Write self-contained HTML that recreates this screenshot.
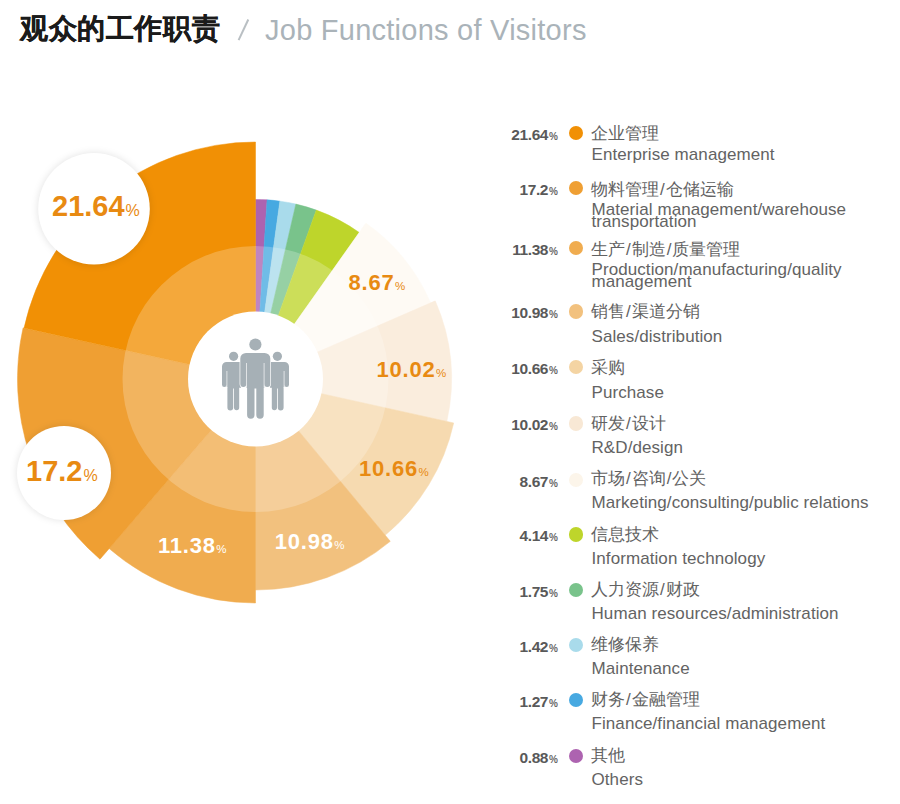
<!DOCTYPE html>
<html><head><meta charset="utf-8">
<style>
html,body{margin:0;padding:0;background:#fff;width:900px;height:804px;overflow:hidden;position:relative;font-family:"Liberation Sans",sans-serif;}
.title-zh{position:absolute;left:20px;top:11px;font-size:28px;font-weight:700;color:#1b1b1b;letter-spacing:0.6px;-webkit-text-stroke:0.25px #1b1b1b;line-height:36px;white-space:nowrap}
.title-sl{position:absolute;left:238px;top:13px;font-size:29px;color:#b7bec3;line-height:34px}
.title-en{position:absolute;left:265px;top:13px;font-size:29px;color:#aab3b9;line-height:34px;white-space:nowrap;letter-spacing:0.25px}
svg{position:absolute;left:0;top:0}
.dot{position:absolute;left:568.9px;width:14.2px;height:14.2px;border-radius:50%}
.pct{position:absolute;right:342px;font-size:15.5px;font-weight:700;color:#595959;line-height:16px;white-space:nowrap;letter-spacing:-0.4px}
.pct small{font-size:10px;font-weight:700;color:#6a6a6a;letter-spacing:0;margin-left:1px}
.zh{position:absolute;left:591px;font-size:17px;color:#626262;line-height:20px;white-space:nowrap}
.en{position:absolute;left:591.5px;letter-spacing:0.08px;font-size:17px;color:#636363;line-height:18px;white-space:nowrap}
.zh i{font-style:normal;margin:0 1px}
.lbl{position:absolute;font-weight:700;white-space:nowrap;color:#E88A12}
.lbl small{font-weight:400;}
.w{color:#fff}
</style></head><body>
<div class="title-zh">观众的工作职责</div>

<div class="title-en">Job Functions of Visitors</div>
<svg width="900" height="804" viewBox="0 0 900 804">
<line x1="248.3" y1="19.5" x2="238.6" y2="40.2" stroke="#b9bfc3" stroke-width="2"/>
<defs>
<filter id="sh" x="-30%" y="-30%" width="160%" height="160%"><feGaussianBlur stdDeviation="3"/></filter>
</defs>
<path d="M255.5,379.0 L255.50,199.50 A179.5,179.5 0 0 1 267.08,199.87 Z" fill="#AD63B0" stroke="#AD63B0" stroke-width="0.5"/>
<path d="M255.5,379.0 L267.08,199.87 A179.5,179.5 0 0 1 279.86,201.16 Z" fill="#47A9E1" stroke="#47A9E1" stroke-width="0.5"/>
<path d="M255.5,379.0 L279.86,201.16 A179.5,179.5 0 0 1 295.88,204.10 Z" fill="#A9DBEB" stroke="#A9DBEB" stroke-width="0.5"/>
<path d="M255.5,379.0 L295.88,204.10 A179.5,179.5 0 0 1 316.30,210.11 Z" fill="#79C38B" stroke="#79C38B" stroke-width="0.5"/>
<path d="M255.5,379.0 L316.30,210.11 A179.5,179.5 0 0 1 359.23,232.50 Z" fill="#BED52B" stroke="#BED52B" stroke-width="0.5"/>
<path d="M255.5,379.0 L365.87,223.12 A191.0,191.0 0 0 1 430.66,302.84 Z" fill="#FEFAF4" stroke="#FEFAF4" stroke-width="0.5"/>
<path d="M255.5,379.0 L435.24,300.85 A196.0,196.0 0 0 1 446.85,421.42 Z" fill="#FAEDDD" stroke="#FAEDDD" stroke-width="0.5"/>
<path d="M255.5,379.0 L453.69,422.94 A203.0,203.0 0 0 1 385.17,535.19 Z" fill="#F6DAB0" stroke="#F6DAB0" stroke-width="0.5"/>
<path d="M255.5,379.0 L390.28,541.34 A211.0,211.0 0 0 1 255.50,590.00 Z" fill="#F2C17E" stroke="#F2C17E" stroke-width="0.5"/>
<path d="M255.5,379.0 L255.50,603.00 A224.0,224.0 0 0 1 109.13,548.57 Z" fill="#F0AC4F" stroke="#F0AC4F" stroke-width="0.5"/>
<path d="M255.5,379.0 L99.99,559.16 A238.0,238.0 0 0 1 23.05,327.89 Z" fill="#EF9F33" stroke="#EF9F33" stroke-width="0.5"/>
<path d="M255.5,379.0 L24.03,328.11 A237.0,237.0 0 0 1 255.50,142.00 Z" fill="#F19005" stroke="#F19005" stroke-width="0.5"/>
<circle cx="255.5" cy="379.0" r="133" fill="#fff" fill-opacity="0.22"/>
<circle cx="255.5" cy="379.0" r="67.5" fill="#fff"/>
<circle cx="94" cy="209" r="57" fill="#000" fill-opacity="0.09" filter="url(#sh)"/>
<circle cx="94" cy="208.8" r="55.8" fill="#fff"/>
<circle cx="64" cy="473" r="48" fill="#000" fill-opacity="0.09" filter="url(#sh)"/>
<circle cx="64" cy="473" r="47" fill="#fff"/>
<g fill="#A6B0B6">
 <circle cx="233.6" cy="356.3" r="4.6"/>
 <path id="sp" d="M222,366.6 A4.6,4.6 0 0 1 226.6,362 H241 V387.7 H239.2 V407.6 A2.6,2.6 0 0 1 234,407.6 V388.6 H233.2 V407.6 A2.9,2.9 0 0 1 227.4,407.6 V387 H226.6 V384.8 A2.3,2.3 0 0 1 222,384.8 Z"/>
 <circle cx="277.4" cy="356.3" r="4.6"/>
 <use href="#sp" transform="translate(511,0) scale(-1,1)"/>
</g>
<line x1="226.9" y1="371" x2="226.9" y2="387.5" stroke="#fff" stroke-width="0.65"/>
<line x1="284.1" y1="371" x2="284.1" y2="387.5" stroke="#fff" stroke-width="0.65"/>
<g fill="#A6B0B6">
 <circle cx="255.4" cy="344.5" r="6.1"/>
 <path d="M240.3,358.6 A5.7,5.7 0 0 1 246,352.9 H264.6 A5.7,5.7 0 0 1 270.3,358.6 V384 A3,3 0 0 1 264.3,384 V387.7 H263.7 V415 A3.7,3.7 0 0 1 256.3,415 V388.5 H254.5 V415 A3.7,3.7 0 0 1 247.1,415 V387.7 H246.3 V384 A3,3 0 0 1 240.3,384 Z" stroke="#fff" stroke-width="1.4" paint-order="stroke"/>
</g>
<line x1="246.5" y1="363" x2="246.5" y2="387.5" stroke="#fff" stroke-width="0.65"/>
<line x1="264.1" y1="363" x2="264.1" y2="387.5" stroke="#fff" stroke-width="0.65"/>
</svg>
<div class="lbl" style="left:52px;top:190px;font-size:29px">21.64<small style="font-size:16px;margin-left:1px">%</small></div>
<div class="lbl" style="left:26px;top:455px;font-size:29px">17.2<small style="font-size:16px;margin-left:1px">%</small></div>
<div class="lbl" style="left:348.5px;top:270px;font-size:22px;letter-spacing:0.8px">8.67<small style="font-size:11.5px;letter-spacing:0;margin-left:0.5px">%</small></div>
<div class="lbl" style="left:376.5px;top:357px;font-size:22px;letter-spacing:0.8px">10.02<small style="font-size:11.5px;letter-spacing:0;margin-left:0.5px">%</small></div>
<div class="lbl" style="left:359px;top:456px;font-size:22px;letter-spacing:0.8px">10.66<small style="font-size:11.5px;letter-spacing:0;margin-left:0.5px">%</small></div>
<div class="lbl w" style="left:274.7px;top:529px;font-size:22px;letter-spacing:0.8px">10.98<small style="font-size:11.5px;letter-spacing:0;margin-left:0.5px">%</small></div>
<div class="lbl w" style="left:158px;top:533px;font-size:22px;letter-spacing:0.8px">11.38<small style="font-size:11.5px;letter-spacing:0;margin-left:0.5px">%</small></div>
<div class="dot" style="top:125.8px;background:#F19005"></div>
<div class="pct" style="top:126.8px">21.64<small>%</small></div>
<div class="zh" style="top:124.3px">企业管理</div>
<div class="en" style="top:145.5px">Enterprise management</div>
<div class="dot" style="top:181.2px;background:#EF9F33"></div>
<div class="pct" style="top:182.2px">17.2<small>%</small></div>
<div class="zh" style="top:179.8px">物料管理<i>/</i>仓储运输</div>
<div class="en" style="top:200.5px">Material management/warehouse</div>
<div class="en" style="top:212.5px">transportation</div>
<div class="dot" style="top:241.2px;background:#F0AC4F"></div>
<div class="pct" style="top:242.2px">11.38<small>%</small></div>
<div class="zh" style="top:239.8px">生产<i>/</i>制造<i>/</i>质量管理</div>
<div class="en" style="top:260.5px">Production/manufacturing/quality</div>
<div class="en" style="top:272.5px">management</div>
<div class="dot" style="top:304.4px;background:#F2C17E"></div>
<div class="pct" style="top:305.4px">10.98<small>%</small></div>
<div class="zh" style="top:302.0px">销售<i>/</i>渠道分销</div>
<div class="en" style="top:328.0px">Sales/distribution</div>
<div class="dot" style="top:359.6px;background:#F4D4A3"></div>
<div class="pct" style="top:360.6px">10.66<small>%</small></div>
<div class="zh" style="top:358.4px">采购</div>
<div class="en" style="top:383.5px">Purchase</div>
<div class="dot" style="top:416.4px;background:#F8E8D5"></div>
<div class="pct" style="top:417.4px">10.02<small>%</small></div>
<div class="zh" style="top:413.5px">研发<i>/</i>设计</div>
<div class="en" style="top:438.5px">R&amp;D/design</div>
<div class="dot" style="top:472.8px;background:#FCF5EA"></div>
<div class="pct" style="top:473.8px">8.67<small>%</small></div>
<div class="zh" style="top:468.9px">市场<i>/</i>咨询<i>/</i>公关</div>
<div class="en" style="top:494.0px">Marketing/consulting/public relations</div>
<div class="dot" style="top:527.4px;background:#BED52B"></div>
<div class="pct" style="top:528.4px">4.14<small>%</small></div>
<div class="zh" style="top:524.7px">信息技术</div>
<div class="en" style="top:549.7px">Information technology</div>
<div class="dot" style="top:583.1px;background:#79C38B"></div>
<div class="pct" style="top:584.1px">1.75<small>%</small></div>
<div class="zh" style="top:580.1px">人力资源<i>/</i>财政</div>
<div class="en" style="top:604.9px">Human resources/administration</div>
<div class="dot" style="top:637.6px;background:#A9DBEB"></div>
<div class="pct" style="top:638.6px">1.42<small>%</small></div>
<div class="zh" style="top:634.7px">维修保养</div>
<div class="en" style="top:660.1px">Maintenance</div>
<div class="dot" style="top:692.9px;background:#47A9E1"></div>
<div class="pct" style="top:693.9px">1.27<small>%</small></div>
<div class="zh" style="top:690.1px">财务<i>/</i>金融管理</div>
<div class="en" style="top:715.1px">Finance/financial management</div>
<div class="dot" style="top:748.7px;background:#AD63B0"></div>
<div class="pct" style="top:749.7px">0.88<small>%</small></div>
<div class="zh" style="top:745.7px">其他</div>
<div class="en" style="top:770.8px">Others</div>
</body></html>
